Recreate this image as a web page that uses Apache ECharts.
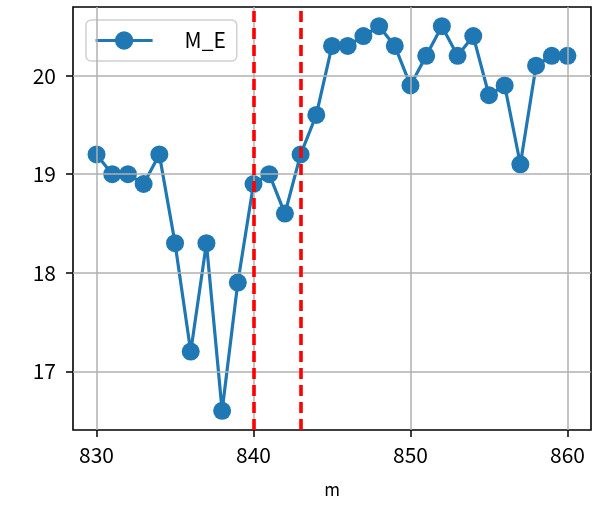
<!DOCTYPE html>
<html><head><meta charset="utf-8">
<script src="https://cdn.jsdelivr.net/npm/echarts@6/dist/echarts.min.js"></script>
<style>html,body{margin:0;padding:0;background:#fff}#c{width:612px;height:510px}</style>
</head><body><div id="c"></div>
<script>
const xValues = [830,831,832,833,834,835,836,837,838,839,840,841,842,843,844,845,846,847,848,849,850,851,852,853,854,855,856,857,858,859,860];
const meValues = [19.2,19.0,19.0,18.9,19.2,18.3,17.2,18.3,16.6,17.9,18.9,19.0,18.6,19.2,19.6,20.3,20.3,20.4,20.5,20.3,19.9,20.2,20.5,20.2,20.4,19.8,19.9,19.1,20.1,20.2,20.2];
const seriesName = 'M_E';
const xTicks = [830,840,850,860];
const yTicks = [17,18,19,20];
const redLines = [840,843];
const xName = 'm';

const FONT = 'Noto Sans CJK JP';
const chart = echarts.init(document.getElementById('c'), null, {renderer:'canvas'});
const gridLines = [];
xTicks.forEach(v => gridLines.push({xAxis: v}));
yTicks.forEach(v => gridLines.push({yAxis: v}));
chart.setOption({
  animation: false,
  grid: {left: 73, right: 21, top: 7, bottom: 80, show: true, borderColor: '#000', borderWidth: 1.6, backgroundColor: 'transparent'},
  legend: {
    data: [seriesName], left: 86, top: 20, orient: 'vertical',
    itemWidth: 57, itemHeight: 23,
    padding: [10, 11, 10, 8],
    lineStyle: {width: 3.2, color: '#1f77b4'},
    backgroundColor: 'rgba(255,255,255,0.8)', borderColor: '#d0d0d0', borderWidth: 1.5, borderRadius: 5,
    textStyle: {fontFamily: FONT, fontSize: 21, color: '#000', padding: [0, 0, 0, 27]}
  },
  xAxis: {
    type: 'value', min: 828.5, max: 861.5, name: xName, nameLocation: 'middle', nameGap: 51,
    nameTextStyle: {fontFamily: FONT, fontSize: 17, color: '#000'},
    axisLine: {show: false},
    axisTick: {show: true, customValues: xTicks, length: 7, lineStyle: {color: '#000', width: 1.5}},
    axisLabel: {customValues: xTicks, fontFamily: FONT, fontSize: 21, color: '#000', margin: 15},
    splitLine: {show: false}
  },
  yAxis: {
    type: 'value', min: 16.405, max: 20.695,
    axisLine: {show: false},
    axisTick: {show: true, customValues: yTicks, length: 7, lineStyle: {color: '#000', width: 1.5}},
    axisLabel: {customValues: yTicks, fontFamily: FONT, fontSize: 21, color: '#000', margin: 17},
    splitLine: {show: false}
  },
  series: [
    {
      name: 'grid', type: 'line', data: [], silent: true, z: 1,
      markLine: {silent: true, symbol: 'none', label: {show: false},
        lineStyle: {color: '#b0b0b0', width: 1.5, type: 'solid'}, data: gridLines, animation: false}
    },
    {
      name: seriesName, type: 'line', z: 3,
      data: xValues.map((x, i) => [x, meValues[i]]),
      symbol: 'circle', symbolSize: 18,
      lineStyle: {color: '#1f77b4', width: 3.2},
      itemStyle: {color: '#1f77b4'},
      markLine: {silent: true, symbol: 'none', label: {show: false}, z: 5,
        lineStyle: {color: '#ff0000', width: 3.6, type: [11, 6]},
        data: redLines.map(v => ({xAxis: v}))}
    }
  ]
});
</script></body></html>
